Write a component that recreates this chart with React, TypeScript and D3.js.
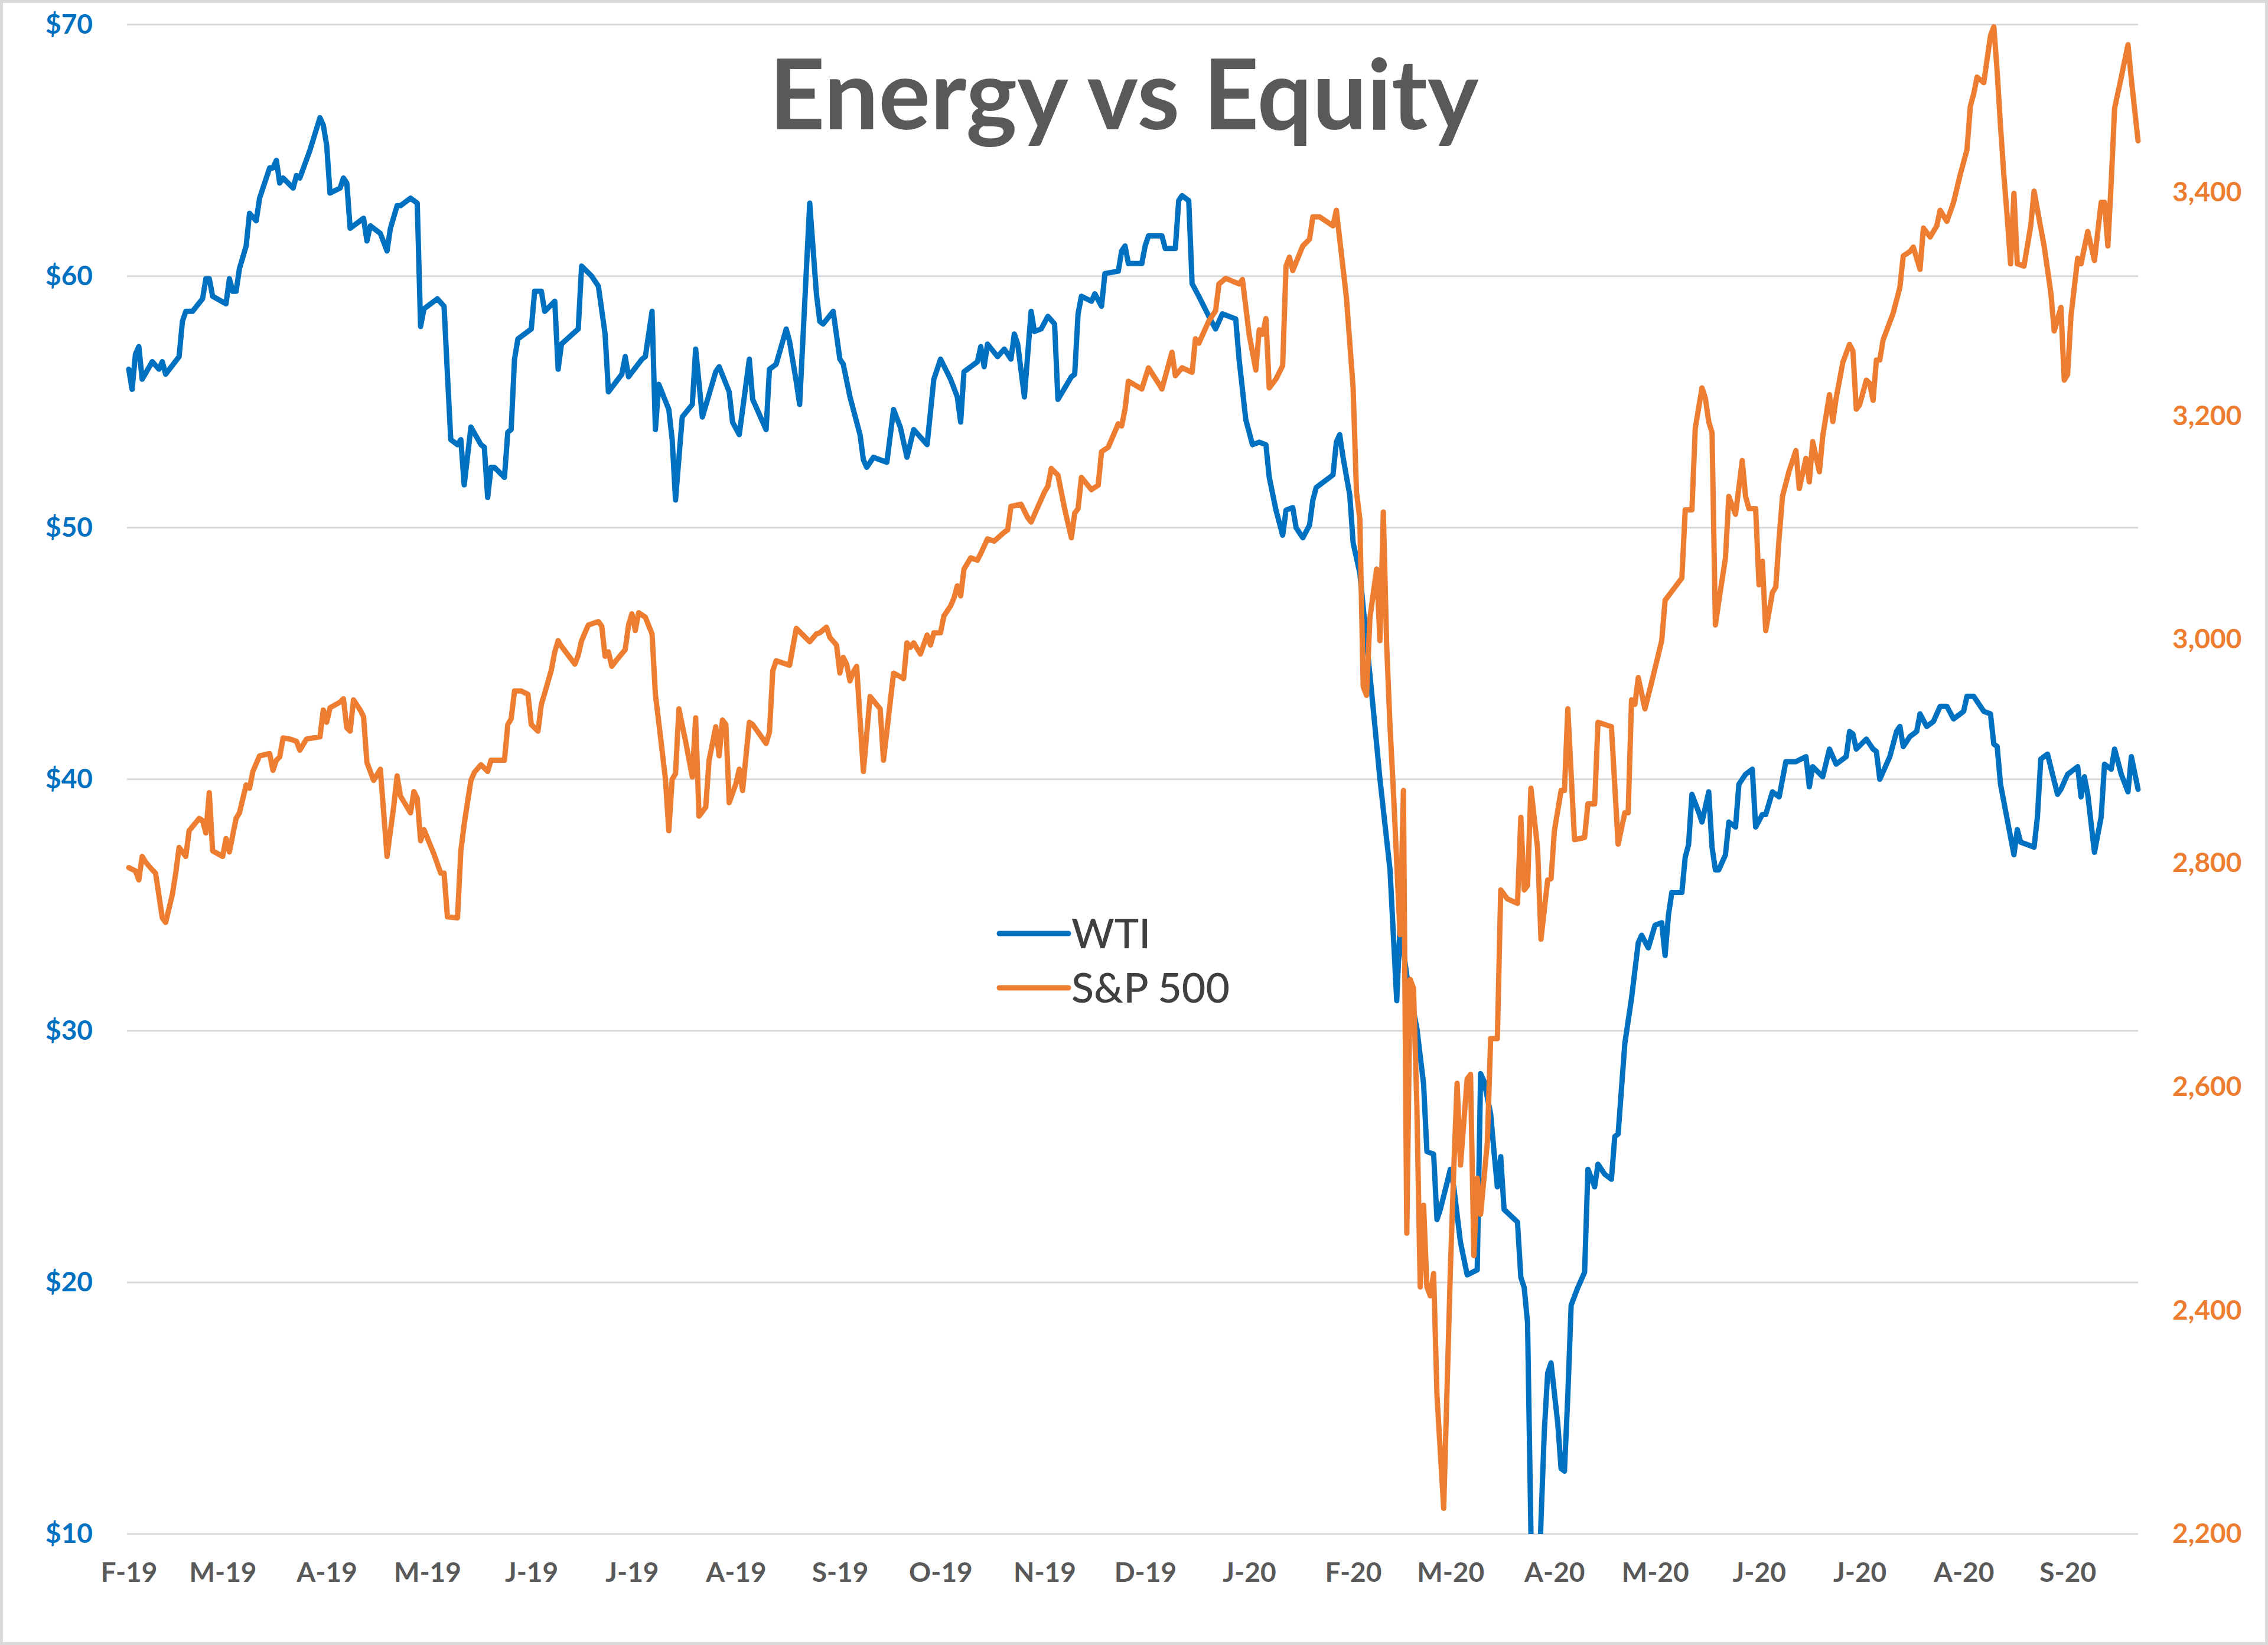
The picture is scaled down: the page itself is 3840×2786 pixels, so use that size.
import React, { useEffect, useRef } from 'react'
import * as d3 from 'd3'

// WTI crude, $ per barrel (left axis)
const wti: [string, number][] = [
  ['2019-02-01', 56.3], ['2019-02-02', 55.5], ['2019-02-03', 56.9], ['2019-02-04', 57.2], ['2019-02-05', 55.9],
  ['2019-02-08', 56.6], ['2019-02-10', 56.3], ['2019-02-11', 56.6], ['2019-02-12', 56.1], ['2019-02-16', 56.8],
  ['2019-02-17', 58.2], ['2019-02-18', 58.6], ['2019-02-20', 58.6], ['2019-02-23', 59.1], ['2019-02-24', 59.9],
  ['2019-02-25', 59.9], ['2019-02-26', 59.2], ['2019-03-02', 58.9], ['2019-03-03', 59.9], ['2019-03-04', 59.4],
  ['2019-03-05', 59.4], ['2019-03-06', 60.3], ['2019-03-08', 61.2], ['2019-03-09', 62.5], ['2019-03-11', 62.2],
  ['2019-03-12', 63.1], ['2019-03-15', 64.3], ['2019-03-16', 64.3], ['2019-03-17', 64.6], ['2019-03-18', 63.7],
  ['2019-03-19', 63.9], ['2019-03-22', 63.5], ['2019-03-23', 64.0], ['2019-03-24', 63.9], ['2019-03-27', 65.0],
  ['2019-03-30', 66.3], ['2019-03-31', 66.0], ['2019-04-01', 65.2], ['2019-04-02', 63.3], ['2019-04-05', 63.5],
  ['2019-04-06', 63.9], ['2019-04-07', 63.7], ['2019-04-08', 61.9], ['2019-04-12', 62.3], ['2019-04-13', 61.4],
  ['2019-04-14', 62.0], ['2019-04-17', 61.7], ['2019-04-19', 61.0], ['2019-04-20', 61.9], ['2019-04-22', 62.8],
  ['2019-04-23', 62.8], ['2019-04-26', 63.1], ['2019-04-28', 62.9], ['2019-04-29', 58.0], ['2019-04-30', 58.7],
  ['2019-05-04', 59.1], ['2019-05-06', 58.8], ['2019-05-07', 56.1], ['2019-05-08', 53.5], ['2019-05-10', 53.3],
  ['2019-05-11', 53.5], ['2019-05-12', 51.7], ['2019-05-14', 54.0], ['2019-05-17', 53.3], ['2019-05-18', 53.2],
  ['2019-05-19', 51.2], ['2019-05-20', 52.4], ['2019-05-21', 52.4], ['2019-05-24', 52.0], ['2019-05-25', 53.8],
  ['2019-05-26', 53.9], ['2019-05-27', 56.7], ['2019-05-28', 57.5], ['2019-06-01', 57.9], ['2019-06-02', 59.4],
  ['2019-06-04', 59.4], ['2019-06-05', 58.6], ['2019-06-08', 59.0], ['2019-06-09', 56.3], ['2019-06-10', 57.3],
  ['2019-06-15', 57.9], ['2019-06-16', 60.4], ['2019-06-19', 60.0], ['2019-06-21', 59.6], ['2019-06-23', 57.7],
  ['2019-06-24', 55.4], ['2019-06-28', 56.1], ['2019-06-29', 56.8], ['2019-06-30', 56.0], ['2019-07-04', 56.7],
  ['2019-07-05', 56.8], ['2019-07-07', 58.6], ['2019-07-08', 53.9], ['2019-07-09', 55.7], ['2019-07-12', 54.7],
  ['2019-07-13', 53.5], ['2019-07-14', 51.1], ['2019-07-16', 54.4], ['2019-07-19', 54.9], ['2019-07-20', 57.1],
  ['2019-07-22', 54.4], ['2019-07-26', 56.2], ['2019-07-27', 56.4], ['2019-07-30', 55.4], ['2019-07-31', 54.2],
  ['2019-08-02', 53.7], ['2019-08-05', 56.7], ['2019-08-06', 55.1], ['2019-08-10', 53.9], ['2019-08-11', 56.3],
  ['2019-08-13', 56.5], ['2019-08-16', 57.9], ['2019-08-17', 57.4], ['2019-08-19', 55.8], ['2019-08-20', 54.9],
  ['2019-08-23', 62.9], ['2019-08-25', 59.3], ['2019-08-26', 58.2], ['2019-08-27', 58.1], ['2019-08-30', 58.6],
  ['2019-09-01', 56.7], ['2019-09-02', 56.5], ['2019-09-04', 55.2], ['2019-09-07', 53.7], ['2019-09-08', 52.7],
  ['2019-09-09', 52.4], ['2019-09-11', 52.8], ['2019-09-13', 52.7], ['2019-09-15', 52.6], ['2019-09-17', 54.7],
  ['2019-09-19', 54.0], ['2019-09-21', 52.8], ['2019-09-23', 53.9], ['2019-09-25', 53.6], ['2019-09-27', 53.3],
  ['2019-09-29', 55.9], ['2019-10-01', 56.7], ['2019-10-04', 55.9], ['2019-10-06', 55.2], ['2019-10-07', 54.2],
  ['2019-10-08', 56.2], ['2019-10-12', 56.6], ['2019-10-13', 57.2], ['2019-10-14', 56.4], ['2019-10-15', 57.3],
  ['2019-10-18', 56.8], ['2019-10-20', 57.1], ['2019-10-22', 56.7], ['2019-10-23', 57.7], ['2019-10-24', 57.3],
  ['2019-10-26', 55.2], ['2019-10-28', 58.6], ['2019-10-29', 57.8], ['2019-10-31', 57.9], ['2019-11-02', 58.4],
  ['2019-11-04', 58.1], ['2019-11-05', 55.1], ['2019-11-09', 56.0], ['2019-11-10', 56.1], ['2019-11-11', 58.5],
  ['2019-11-12', 59.2], ['2019-11-15', 59.0], ['2019-11-16', 59.3], ['2019-11-18', 58.8], ['2019-11-19', 60.1],
  ['2019-11-23', 60.2], ['2019-11-24', 61.0], ['2019-11-25', 61.2], ['2019-11-26', 60.5], ['2019-11-30', 60.5],
  ['2019-12-01', 61.2], ['2019-12-02', 61.6], ['2019-12-06', 61.6], ['2019-12-07', 61.1], ['2019-12-10', 61.1],
  ['2019-12-11', 63.0], ['2019-12-12', 63.2], ['2019-12-14', 63.0], ['2019-12-15', 59.7], ['2019-12-17', 59.2],
  ['2019-12-20', 58.4], ['2019-12-22', 57.9], ['2019-12-24', 58.5], ['2019-12-28', 58.3], ['2019-12-29', 56.7],
  ['2019-12-31', 54.3], ['2020-01-02', 53.3], ['2020-01-04', 53.4], ['2020-01-06', 53.3], ['2020-01-07', 52.0],
  ['2020-01-09', 50.7], ['2020-01-11', 49.7], ['2020-01-12', 50.7], ['2020-01-14', 50.8], ['2020-01-15', 50.0],
  ['2020-01-17', 49.6], ['2020-01-19', 50.1], ['2020-01-20', 51.1], ['2020-01-21', 51.6], ['2020-01-26', 52.1],
  ['2020-01-27', 53.4], ['2020-01-28', 53.7], ['2020-01-29', 52.8], ['2020-01-31', 51.3], ['2020-02-01', 49.4],
  ['2020-02-03', 48.2], ['2020-02-05', 45.5], ['2020-02-07', 42.8], ['2020-02-09', 40.0], ['2020-02-12', 36.4],
  ['2020-02-14', 31.2], ['2020-02-15', 34.2], ['2020-02-17', 32.2], ['2020-02-20', 30.1], ['2020-02-22', 27.9],
  ['2020-02-23', 25.2], ['2020-02-25', 25.1], ['2020-02-26', 22.5], ['2020-02-27', 22.9], ['2020-03-01', 24.5],
  ['2020-03-02', 23.8], ['2020-03-04', 21.6], ['2020-03-06', 20.3], ['2020-03-09', 20.5], ['2020-03-10', 28.3],
  ['2020-03-11', 28.0], ['2020-03-13', 26.7], ['2020-03-14', 25.2], ['2020-03-15', 23.8], ['2020-03-16', 25.0],
  ['2020-03-17', 22.9], ['2020-03-21', 22.4], ['2020-03-22', 20.2], ['2020-03-23', 19.8], ['2020-03-24', 18.4],
  ['2020-03-25', 10.1], ['2020-03-26', 4.0], ['2020-03-27', 6.0], ['2020-03-28', 10.5], ['2020-03-29', 14.1],
  ['2020-03-30', 16.4], ['2020-03-31', 16.8], ['2020-04-02', 14.4], ['2020-04-03', 12.6], ['2020-04-04', 12.5],
  ['2020-04-05', 15.5], ['2020-04-06', 19.1], ['2020-04-08', 19.8], ['2020-04-10', 20.4], ['2020-04-11', 24.5],
  ['2020-04-13', 23.8], ['2020-04-14', 24.7], ['2020-04-16', 24.3], ['2020-04-18', 24.1], ['2020-04-19', 25.8],
  ['2020-04-20', 25.9], ['2020-04-22', 29.5], ['2020-04-24', 31.3], ['2020-04-26', 33.5], ['2020-04-27', 33.8],
  ['2020-04-29', 33.3], ['2020-05-01', 34.2], ['2020-05-03', 34.3], ['2020-05-04', 33.0], ['2020-05-05', 34.6],
  ['2020-05-06', 35.5], ['2020-05-09', 35.5], ['2020-05-10', 36.9], ['2020-05-11', 37.4], ['2020-05-12', 39.4],
  ['2020-05-14', 38.7], ['2020-05-15', 38.3], ['2020-05-17', 39.5], ['2020-05-18', 37.3], ['2020-05-19', 36.4],
  ['2020-05-20', 36.4], ['2020-05-22', 37.0], ['2020-05-23', 38.3], ['2020-05-25', 38.1], ['2020-05-26', 39.8],
  ['2020-05-28', 40.2], ['2020-05-30', 40.4], ['2020-05-31', 38.1], ['2020-06-02', 38.6], ['2020-06-03', 38.6],
  ['2020-06-05', 39.5], ['2020-06-07', 39.3], ['2020-06-09', 40.7], ['2020-06-12', 40.7], ['2020-06-15', 40.9],
  ['2020-06-16', 39.7], ['2020-06-17', 40.5], ['2020-06-20', 40.1], ['2020-06-22', 41.2], ['2020-06-24', 40.6],
  ['2020-06-27', 40.9], ['2020-06-28', 41.9], ['2020-06-29', 41.8], ['2020-06-30', 41.2], ['2020-07-03', 41.6],
  ['2020-07-05', 41.2], ['2020-07-06', 41.1], ['2020-07-07', 40.0], ['2020-07-10', 40.9], ['2020-07-12', 41.9],
  ['2020-07-13', 42.1], ['2020-07-14', 41.3], ['2020-07-16', 41.7], ['2020-07-18', 41.9], ['2020-07-19', 42.6],
  ['2020-07-21', 42.1], ['2020-07-23', 42.3], ['2020-07-25', 42.9], ['2020-07-27', 42.9], ['2020-07-29', 42.4],
  ['2020-08-01', 42.7], ['2020-08-02', 43.3], ['2020-08-04', 43.3], ['2020-08-07', 42.7], ['2020-08-09', 42.6],
  ['2020-08-10', 41.4], ['2020-08-11', 41.3], ['2020-08-12', 39.8], ['2020-08-14', 38.4], ['2020-08-16', 37.0],
  ['2020-08-17', 38.0], ['2020-08-18', 37.5], ['2020-08-22', 37.3], ['2020-08-23', 38.5], ['2020-08-24', 40.8],
  ['2020-08-26', 41.0], ['2020-08-29', 39.4], ['2020-08-30', 39.6], ['2020-09-01', 40.2], ['2020-09-04', 40.5],
  ['2020-09-05', 39.3], ['2020-09-06', 40.1], ['2020-09-07', 39.4], ['2020-09-09', 37.1], ['2020-09-11', 38.5],
  ['2020-09-12', 40.6], ['2020-09-14', 40.4], ['2020-09-15', 41.2], ['2020-09-17', 40.2], ['2020-09-19', 39.5],
  ['2020-09-20', 40.9], ['2020-09-22', 39.6]
]

// S&P 500 index level (right axis)
const spx: [string, number][] = [
  ['2019-02-01', 2796], ['2019-02-03', 2793], ['2019-02-04', 2785], ['2019-02-05', 2806], ['2019-02-06', 2801],
  ['2019-02-08', 2794], ['2019-02-09', 2791], ['2019-02-11', 2751], ['2019-02-12', 2747], ['2019-02-14', 2772],
  ['2019-02-15', 2791], ['2019-02-16', 2814], ['2019-02-18', 2806], ['2019-02-19', 2829], ['2019-02-22', 2840],
  ['2019-02-23', 2838], ['2019-02-24', 2827], ['2019-02-25', 2863], ['2019-02-26', 2811], ['2019-03-01', 2806],
  ['2019-03-02', 2822], ['2019-03-03', 2810], ['2019-03-05', 2840], ['2019-03-06', 2845], ['2019-03-08', 2870],
  ['2019-03-09', 2867], ['2019-03-10', 2882], ['2019-03-12', 2896], ['2019-03-15', 2898], ['2019-03-16', 2883],
  ['2019-03-17', 2892], ['2019-03-18', 2895], ['2019-03-19', 2912], ['2019-03-21', 2911], ['2019-03-23', 2909],
  ['2019-03-24', 2901], ['2019-03-26', 2911], ['2019-03-30', 2913], ['2019-03-31', 2937], ['2019-04-01', 2926],
  ['2019-04-02', 2939], ['2019-04-05', 2944], ['2019-04-06', 2947], ['2019-04-07', 2921], ['2019-04-08', 2918],
  ['2019-04-09', 2946], ['2019-04-11', 2937], ['2019-04-12', 2931], ['2019-04-13', 2890], ['2019-04-15', 2874],
  ['2019-04-17', 2884], ['2019-04-19', 2806], ['2019-04-21', 2851], ['2019-04-22', 2878], ['2019-04-23', 2860],
  ['2019-04-26', 2845], ['2019-04-27', 2864], ['2019-04-28', 2858], ['2019-04-29', 2820], ['2019-04-30', 2830],
  ['2019-05-03', 2808], ['2019-05-05', 2791], ['2019-05-06', 2791], ['2019-05-07', 2752], ['2019-05-10', 2751],
  ['2019-05-11', 2811], ['2019-05-12', 2835], ['2019-05-14', 2874], ['2019-05-15', 2881], ['2019-05-17', 2888],
  ['2019-05-19', 2882], ['2019-05-20', 2892], ['2019-05-24', 2892], ['2019-05-25', 2924], ['2019-05-26', 2929],
  ['2019-05-27', 2954], ['2019-05-29', 2954], ['2019-05-31', 2951], ['2019-06-01', 2924], ['2019-06-03', 2918],
  ['2019-06-04', 2942], ['2019-06-05', 2952], ['2019-06-07', 2973], ['2019-06-08', 2989], ['2019-06-09', 2999],
  ['2019-06-10', 2994], ['2019-06-14', 2978], ['2019-06-15', 2986], ['2019-06-16', 2999], ['2019-06-18', 3013],
  ['2019-06-21', 3016], ['2019-06-22', 3012], ['2019-06-23', 2985], ['2019-06-24', 2989], ['2019-06-25', 2976],
  ['2019-06-26', 2980], ['2019-06-29', 2991], ['2019-06-30', 3013], ['2019-07-01', 3023], ['2019-07-02', 3008],
  ['2019-07-03', 3024], ['2019-07-05', 3020], ['2019-07-07', 3005], ['2019-07-08', 2951], ['2019-07-09', 2926],
  ['2019-07-11', 2875], ['2019-07-12', 2829], ['2019-07-13', 2875], ['2019-07-14', 2880], ['2019-07-15', 2938],
  ['2019-07-17', 2909], ['2019-07-19', 2877], ['2019-07-20', 2930], ['2019-07-21', 2842], ['2019-07-23', 2850],
  ['2019-07-24', 2892], ['2019-07-26', 2922], ['2019-07-27', 2896], ['2019-07-28', 2928], ['2019-07-29', 2924],
  ['2019-07-30', 2854], ['2019-08-01', 2871], ['2019-08-02', 2884], ['2019-08-03', 2865], ['2019-08-05', 2926],
  ['2019-08-06', 2924], ['2019-08-10', 2907], ['2019-08-11', 2917], ['2019-08-12', 2972], ['2019-08-13', 2981],
  ['2019-08-17', 2977], ['2019-08-19', 3010], ['2019-08-21', 3004], ['2019-08-23', 2998], ['2019-08-25', 3005],
  ['2019-08-26', 3006], ['2019-08-28', 3011], ['2019-08-29', 3002], ['2019-08-31', 2995], ['2019-09-01', 2970],
  ['2019-09-02', 2984], ['2019-09-03', 2978], ['2019-09-04', 2963], ['2019-09-05', 2971], ['2019-09-06', 2976],
  ['2019-09-08', 2882], ['2019-09-10', 2949], ['2019-09-13', 2938], ['2019-09-14', 2892], ['2019-09-17', 2970],
  ['2019-09-20', 2965], ['2019-09-21', 2997], ['2019-09-22', 2993], ['2019-09-23', 2997], ['2019-09-25', 2987],
  ['2019-09-27', 3004], ['2019-09-28', 2995], ['2019-09-29', 3006], ['2019-10-01', 3006], ['2019-10-02', 3021],
  ['2019-10-04', 3030], ['2019-10-05', 3037], ['2019-10-06', 3048], ['2019-10-07', 3039], ['2019-10-08', 3063],
  ['2019-10-10', 3073], ['2019-10-12', 3071], ['2019-10-13', 3077], ['2019-10-15', 3090], ['2019-10-17', 3088],
  ['2019-10-20', 3096], ['2019-10-21', 3098], ['2019-10-22', 3119], ['2019-10-25', 3121], ['2019-10-27', 3109],
  ['2019-10-28', 3105], ['2019-11-01', 3132], ['2019-11-02', 3137], ['2019-11-03', 3153], ['2019-11-05', 3147],
  ['2019-11-07', 3117], ['2019-11-09', 3091], ['2019-11-10', 3113], ['2019-11-11', 3117], ['2019-11-12', 3145],
  ['2019-11-15', 3134], ['2019-11-17', 3138], ['2019-11-18', 3168], ['2019-11-20', 3172], ['2019-11-23', 3193],
  ['2019-11-24', 3191], ['2019-11-25', 3206], ['2019-11-26', 3231], ['2019-11-30', 3224], ['2019-12-02', 3243],
  ['2019-12-05', 3229], ['2019-12-06', 3224], ['2019-12-09', 3257], ['2019-12-10', 3236], ['2019-12-12', 3243],
  ['2019-12-15', 3239], ['2019-12-16', 3269], ['2019-12-17', 3265], ['2019-12-20', 3285], ['2019-12-22', 3294],
  ['2019-12-23', 3318], ['2019-12-25', 3323], ['2019-12-29', 3318], ['2019-12-30', 3322], ['2020-01-01', 3273],
  ['2020-01-03', 3241], ['2020-01-04', 3277], ['2020-01-05', 3273], ['2020-01-06', 3287], ['2020-01-07', 3225],
  ['2020-01-09', 3233], ['2020-01-11', 3245], ['2020-01-12', 3334], ['2020-01-13', 3342], ['2020-01-14', 3330],
  ['2020-01-17', 3352], ['2020-01-19', 3358], ['2020-01-20', 3378], ['2020-01-22', 3378], ['2020-01-26', 3370],
  ['2020-01-27', 3384], ['2020-01-28', 3358], ['2020-01-30', 3306], ['2020-02-01', 3225], ['2020-02-02', 3132],
  ['2020-02-03', 3108], ['2020-02-04', 2958], ['2020-02-05', 2950], ['2020-02-06', 3019], ['2020-02-08', 3063],
  ['2020-02-09', 2999], ['2020-02-10', 3114], ['2020-02-11', 2995], ['2020-02-12', 2922], ['2020-02-13', 2865],
  ['2020-02-15', 2736], ['2020-02-16', 2865], ['2020-02-17', 2469], ['2020-02-18', 2696], ['2020-02-19', 2688],
  ['2020-02-20', 2583], ['2020-02-21', 2421], ['2020-02-22', 2494], ['2020-02-23', 2421], ['2020-02-24', 2413],
  ['2020-02-25', 2433], ['2020-02-26', 2324], ['2020-02-28', 2223], ['2020-03-01', 2437], ['2020-03-02', 2526],
  ['2020-03-03', 2603], ['2020-03-04', 2530], ['2020-03-06', 2607], ['2020-03-07', 2611], ['2020-03-08', 2449],
  ['2020-03-09', 2518], ['2020-03-10', 2486], ['2020-03-12', 2550], ['2020-03-13', 2643], ['2020-03-15', 2643],
  ['2020-03-16', 2776], ['2020-03-18', 2768], ['2020-03-21', 2764], ['2020-03-22', 2841], ['2020-03-23', 2776],
  ['2020-03-24', 2780], ['2020-03-25', 2867], ['2020-03-27', 2813], ['2020-03-28', 2732], ['2020-03-30', 2785],
  ['2020-03-31', 2786], ['2020-04-01', 2829], ['2020-04-03', 2865], ['2020-04-04', 2865], ['2020-04-05', 2938],
  ['2020-04-07', 2821], ['2020-04-10', 2823], ['2020-04-11', 2853], ['2020-04-13', 2853], ['2020-04-14', 2926],
  ['2020-04-18', 2922], ['2020-04-20', 2817], ['2020-04-22', 2845], ['2020-04-23', 2845], ['2020-04-24', 2946],
  ['2020-04-25', 2942], ['2020-04-26', 2966], ['2020-04-28', 2938], ['2020-04-30', 2962], ['2020-05-03', 2999],
  ['2020-05-04', 3035], ['2020-05-06', 3043], ['2020-05-09', 3055], ['2020-05-10', 3116], ['2020-05-12', 3116],
  ['2020-05-13', 3189], ['2020-05-15', 3225], ['2020-05-16', 3216], ['2020-05-17', 3195], ['2020-05-18', 3185],
  ['2020-05-19', 3013], ['2020-05-20', 3034], ['2020-05-22', 3073], ['2020-05-23', 3128], ['2020-05-25', 3112],
  ['2020-05-27', 3160], ['2020-05-28', 3128], ['2020-05-29', 3117], ['2020-05-31', 3117], ['2020-06-01', 3049],
  ['2020-06-02', 3070], ['2020-06-03', 3008], ['2020-06-05', 3042], ['2020-06-06', 3047], ['2020-06-07', 3091],
  ['2020-06-08', 3128], ['2020-06-10', 3151], ['2020-06-12', 3169], ['2020-06-13', 3135], ['2020-06-15', 3162],
  ['2020-06-16', 3141], ['2020-06-17', 3177], ['2020-06-19', 3150], ['2020-06-20', 3182], ['2020-06-22', 3219],
  ['2020-06-23', 3195], ['2020-06-24', 3216], ['2020-06-26', 3248], ['2020-06-28', 3264], ['2020-06-29', 3258],
  ['2020-06-30', 3206], ['2020-07-01', 3210], ['2020-07-03', 3232], ['2020-07-04', 3229], ['2020-07-05', 3214],
  ['2020-07-06', 3250], ['2020-07-07', 3250], ['2020-07-08', 3268], ['2020-07-11', 3292], ['2020-07-13', 3315],
  ['2020-07-14', 3343], ['2020-07-16', 3347], ['2020-07-17', 3351], ['2020-07-19', 3331], ['2020-07-20', 3368],
  ['2020-07-22', 3360], ['2020-07-24', 3370], ['2020-07-25', 3384], ['2020-07-27', 3374], ['2020-07-29', 3391],
  ['2020-07-31', 3416], ['2020-08-02', 3438], ['2020-08-03', 3477], ['2020-08-04', 3488], ['2020-08-05', 3503],
  ['2020-08-07', 3498], ['2020-08-09', 3540], ['2020-08-10', 3548], ['2020-08-11', 3508], ['2020-08-12', 3459],
  ['2020-08-13', 3415], ['2020-08-14', 3378], ['2020-08-15', 3336], ['2020-08-16', 3399], ['2020-08-17', 3336],
  ['2020-08-19', 3334], ['2020-08-21', 3370], ['2020-08-22', 3401], ['2020-08-24', 3368], ['2020-08-25', 3352],
  ['2020-08-27', 3310], ['2020-08-28', 3276], ['2020-08-30', 3297], ['2020-08-31', 3232], ['2020-09-01', 3237],
  ['2020-09-02', 3289], ['2020-09-04', 3341], ['2020-09-05', 3336], ['2020-09-07', 3365], ['2020-09-09', 3339],
  ['2020-09-11', 3391], ['2020-09-12', 3391], ['2020-09-13', 3352], ['2020-09-14', 3409], ['2020-09-15', 3475],
  ['2020-09-17', 3503], ['2020-09-19', 3532], ['2020-09-20', 3501], ['2020-09-22', 3446]
]

const xTickLabels = ['F-19', 'M-19', 'A-19', 'M-19', 'J-19', 'J-19', 'A-19', 'S-19', 'O-19', 'N-19',
  'D-19', 'J-20', 'F-20', 'M-20', 'A-20', 'M-20', 'J-20', 'J-20', 'A-20', 'S-20']
const wtiTicks = [10, 20, 30, 40, 50, 60, 70]
const spxTicks = [2200, 2400, 2600, 2800, 3000, 3200, 3400]
const seriesNames = ['WTI', 'S&P 500']
const seriesColors = ['#0070C0', '#ED7D31']

const W = 3840
const H = 2786

const App: React.FC = () => {
  const svgRef = useRef<SVGSVGElement>(null)

  useEffect(() => {
    if (!svgRef.current) return

    const svg = d3.select(svgRef.current)
    svg.selectAll('*').remove()

    const font = 'Lato, "Open Sans", sans-serif'
    const lineWidth = 9
    const parse = d3.timeParse('%Y-%m-%d')
    const toPoints = (rows: [string, number][]) => rows.map(([d, v]) => ({ date: parse(d) as Date, value: v }))
    const wtiData = toPoints(wti)
    const spxData = toPoints(spx)

    const plot = { left: 218, right: 3620, top: 41.6, bottom: 2598 }

    const x = d3.scaleTime()
      .domain([parse('2019-02-01') as Date, parse('2020-09-22') as Date])
      .range([plot.left, plot.right])
    const yLeft = d3.scaleLinear().domain([10, 70]).range([plot.bottom, plot.top])
    const yRight = d3.scaleLinear().domain([2200, 3550]).range([plot.bottom, plot.top])

    svg.append('rect').attr('width', W).attr('height', H).attr('fill', '#fff')
    svg.append('rect')
      .attr('x', 2.5).attr('y', 2.5)
      .attr('width', W - 5).attr('height', H - 5)
      .attr('fill', 'none')
      .attr('stroke', '#d9d9d9')
      .attr('stroke-width', 5)

    // Gridlines
    svg.append('g')
      .selectAll('line')
      .data(wtiTicks)
      .enter()
      .append('line')
      .attr('x1', plot.left - 3)
      .attr('x2', plot.right)
      .attr('y1', d => yLeft(d))
      .attr('y2', d => yLeft(d))
      .attr('stroke', '#d9d9d9')
      .attr('stroke-width', 3)

    // Axes
    const leftAxis = svg.append('g')
      .attr('transform', `translate(${plot.left - 3},0)`)
      .call(d3.axisLeft(yLeft).tickValues(wtiTicks).tickFormat(d => `$${d}`).tickSize(0).tickPadding(58))
    leftAxis.select('.domain').remove()
    leftAxis.selectAll('text')
      .style('font-family', font).style('font-size', '46px').style('font-weight', '700')
      .style('fill', seriesColors[0])

    const rightAxis = svg.append('g')
      .attr('transform', `translate(${plot.right},0)`)
      .call(d3.axisRight(yRight).tickValues(spxTicks).tickFormat(d3.format(',') as any).tickSize(0).tickPadding(58))
    rightAxis.select('.domain').remove()
    rightAxis.selectAll('text')
      .style('font-family', font).style('font-size', '46px').style('font-weight', '700')
      .style('fill', seriesColors[1])

    const monthTicks = d3.timeMonth.range(x.domain()[0], d3.timeMonth.offset(x.domain()[1], 1))
    const bottomAxis = svg.append('g')
      .attr('transform', `translate(0,${plot.bottom})`)
      .call(d3.axisBottom(x).tickValues(monthTicks).tickFormat((d, i) => xTickLabels[i]).tickSize(0).tickPadding(48))
    bottomAxis.select('.domain').remove()
    bottomAxis.selectAll('text')
      .style('font-family', font).style('font-size', '46px').style('font-weight', '700')
      .style('fill', '#595959')

    // Lines, clipped to the plot area like Excel does
    svg.append('clipPath').attr('id', 'plot-clip')
      .append('rect')
      .attr('x', plot.left - 6).attr('y', plot.top - 10)
      .attr('width', plot.right - plot.left + 12).attr('height', plot.bottom - plot.top + 10)

    const lines = svg.append('g').attr('clip-path', 'url(#plot-clip)')

    const wtiLine = d3.line<{ date: Date, value: number }>()
      .x(d => x(d.date))
      .y(d => yLeft(d.value))
    const spxLine = d3.line<{ date: Date, value: number }>()
      .x(d => x(d.date))
      .y(d => yRight(d.value))

    lines.append('path')
      .datum(wtiData)
      .attr('fill', 'none')
      .attr('stroke', seriesColors[0])
      .attr('stroke-width', lineWidth)
      .attr('stroke-linejoin', 'round')
      .attr('stroke-linecap', 'round')
      .attr('d', wtiLine)

    lines.append('path')
      .datum(spxData)
      .attr('fill', 'none')
      .attr('stroke', seriesColors[1])
      .attr('stroke-width', lineWidth)
      .attr('stroke-linejoin', 'round')
      .attr('stroke-linecap', 'round')
      .attr('d', spxLine)

    // Title
    svg.append('text')
      .attr('x', 1903)
      .attr('y', 219)
      .attr('text-anchor', 'middle')
      .attr('textLength', 1201)
      .attr('lengthAdjust', 'spacingAndGlyphs')
      .style('font-family', font)
      .style('font-size', '165px')
      .style('font-weight', '700')
      .style('fill', '#595959')
      .text('Energy vs Equity')

    // Legend
    const legend = svg.append('g').attr('transform', 'translate(1692,1581)')
    const items = legend.selectAll('.legend-item')
      .data(seriesNames)
      .enter()
      .append('g')
      .attr('class', 'legend-item')
      .attr('transform', (d, i) => `translate(0,${i * 92})`)

    items.append('line')
      .attr('x1', 0).attr('x2', 117)
      .attr('stroke', (d, i) => seriesColors[i])
      .attr('stroke-width', lineWidth)
      .attr('stroke-linecap', 'round')

    items.append('text')
      .attr('x', 122)
      .attr('y', 25)
      .style('font-family', font)
      .style('font-size', '70px')
      .style('font-weight', '500')
      .style('fill', '#404040')
      .text(d => d)
  }, [])

  return (
    <svg
      ref={svgRef}
      width={W}
      height={H}
      style={{ position: 'absolute', left: 0, top: 0, display: 'block' }}
    />
  )
}

export default App
